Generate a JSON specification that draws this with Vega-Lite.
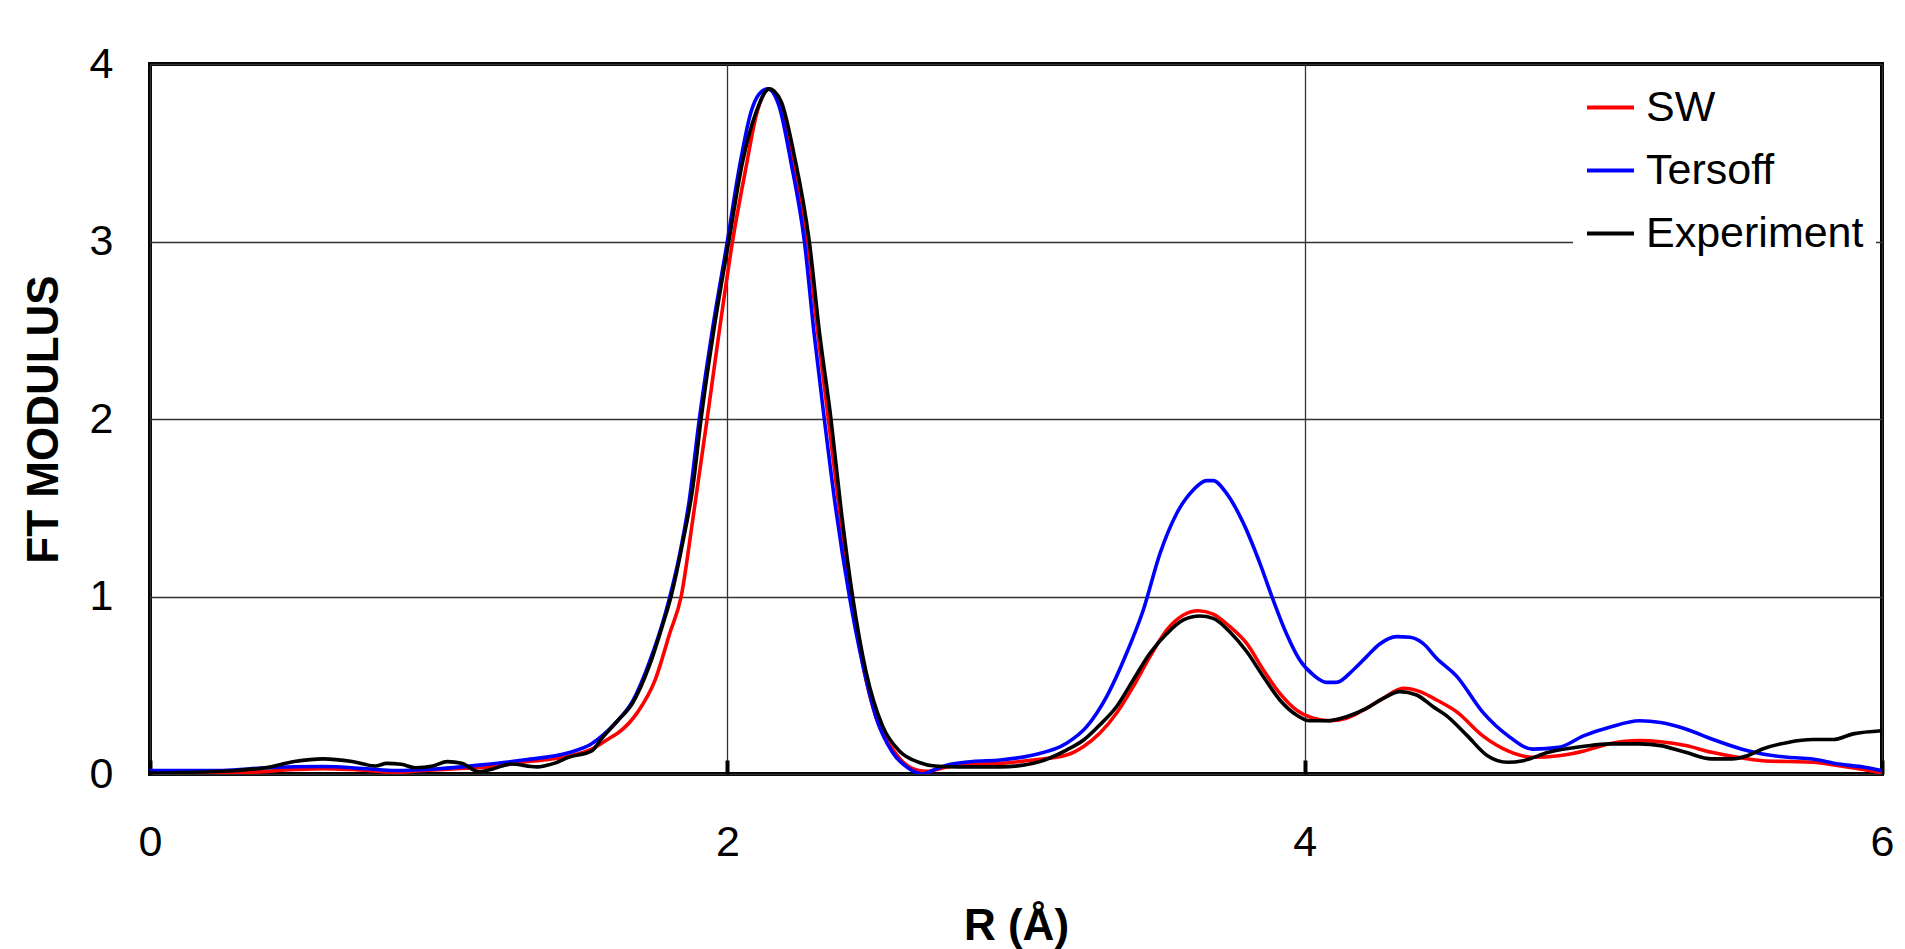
{
  "$schema": "https://vega.github.io/schema/vega-lite/v6.json",
  "width": 1732,
  "height": 710,
  "autosize": {"type": "none"},
  "padding": {"left": 150, "top": 64, "right": 23, "bottom": 175},
  "background": "white",
  "config": {
    "view": {"stroke": "black", "strokeWidth": 4},
    "font": "Liberation Sans"
  },
  "data": {
    "values": [
      {"s":"SW","r":0,"v":0.005},{"s":"SW","r":0.2,"v":0.005},{"s":"SW","r":0.35,"v":0.01},{"s":"SW","r":0.5,"v":0.025},{"s":"SW","r":0.6,"v":0.03},{"s":"SW","r":0.7,"v":0.025},{"s":"SW","r":0.85,"v":0.01},{"s":"SW","r":0.95,"v":0.02},{"s":"SW","r":1.06,"v":0.03},{"s":"SW","r":1.17,"v":0.04},{"s":"SW","r":1.31,"v":0.07},{"s":"SW","r":1.45,"v":0.1},{"s":"SW","r":1.53,"v":0.14},{"s":"SW","r":1.6,"v":0.21},{"s":"SW","r":1.62,"v":0.23},{"s":"SW","r":1.69,"v":0.35},{"s":"SW","r":1.75,"v":0.53},{"s":"SW","r":1.8,"v":0.79},{"s":"SW","r":1.84,"v":1.0},{"s":"SW","r":1.88,"v":1.43},{"s":"SW","r":1.93,"v":2.0},{"s":"SW","r":1.97,"v":2.47},{"s":"SW","r":2.018,"v":3.0},{"s":"SW","r":2.065,"v":3.42},{"s":"SW","r":2.1,"v":3.71},{"s":"SW","r":2.145,"v":3.86},{"s":"SW","r":2.19,"v":3.73},{"s":"SW","r":2.23,"v":3.45},{"s":"SW","r":2.278,"v":3.0},{"s":"SW","r":2.313,"v":2.49},{"s":"SW","r":2.35,"v":2.0},{"s":"SW","r":2.388,"v":1.49},{"s":"SW","r":2.43,"v":1.0},{"s":"SW","r":2.47,"v":0.61},{"s":"SW","r":2.515,"v":0.32},{"s":"SW","r":2.573,"v":0.14},{"s":"SW","r":2.642,"v":0.03},{"s":"SW","r":2.69,"v":0.015},{"s":"SW","r":2.76,"v":0.04},{"s":"SW","r":2.85,"v":0.055},{"s":"SW","r":2.945,"v":0.06},{"s":"SW","r":3.06,"v":0.079},{"s":"SW","r":3.175,"v":0.107},{"s":"SW","r":3.233,"v":0.154},{"s":"SW","r":3.29,"v":0.229},{"s":"SW","r":3.348,"v":0.342},{"s":"SW","r":3.406,"v":0.492},{"s":"SW","r":3.464,"v":0.661},{"s":"SW","r":3.522,"v":0.811},{"s":"SW","r":3.58,"v":0.896},{"s":"SW","r":3.632,"v":0.92},{"s":"SW","r":3.683,"v":0.901},{"s":"SW","r":3.741,"v":0.83},{"s":"SW","r":3.799,"v":0.736},{"s":"SW","r":3.857,"v":0.586},{"s":"SW","r":3.914,"v":0.454},{"s":"SW","r":3.972,"v":0.36},{"s":"SW","r":4.03,"v":0.314},{"s":"SW","r":4.087,"v":0.3},{"s":"SW","r":4.145,"v":0.314},{"s":"SW","r":4.214,"v":0.37},{"s":"SW","r":4.272,"v":0.426},{"s":"SW","r":4.341,"v":0.483},{"s":"SW","r":4.4,"v":0.464},{"s":"SW","r":4.457,"v":0.417},{"s":"SW","r":4.527,"v":0.35},{"s":"SW","r":4.616,"v":0.216},{"s":"SW","r":4.704,"v":0.13},{"s":"SW","r":4.79,"v":0.094},{"s":"SW","r":4.88,"v":0.103},{"s":"SW","r":4.968,"v":0.13},{"s":"SW","r":5.056,"v":0.17},{"s":"SW","r":5.16,"v":0.188},{"s":"SW","r":5.233,"v":0.182},{"s":"SW","r":5.32,"v":0.16},{"s":"SW","r":5.41,"v":0.122},{"s":"SW","r":5.5,"v":0.094},{"s":"SW","r":5.586,"v":0.075},{"s":"SW","r":5.674,"v":0.07},{"s":"SW","r":5.76,"v":0.066},{"s":"SW","r":5.85,"v":0.047},{"s":"SW","r":5.94,"v":0.024},{"s":"SW","r":6.0,"v":0.006},

      {"s":"Tersoff","r":0,"v":0.02},{"s":"Tersoff","r":0.25,"v":0.02},{"s":"Tersoff","r":0.4,"v":0.035},{"s":"Tersoff","r":0.6,"v":0.042},{"s":"Tersoff","r":0.75,"v":0.03},{"s":"Tersoff","r":0.85,"v":0.02},{"s":"Tersoff","r":1.0,"v":0.03},{"s":"Tersoff","r":1.14,"v":0.05},{"s":"Tersoff","r":1.3,"v":0.08},{"s":"Tersoff","r":1.45,"v":0.12},{"s":"Tersoff","r":1.53,"v":0.17},{"s":"Tersoff","r":1.57,"v":0.22},{"s":"Tersoff","r":1.614,"v":0.29},{"s":"Tersoff","r":1.672,"v":0.41},{"s":"Tersoff","r":1.73,"v":0.63},{"s":"Tersoff","r":1.788,"v":0.92},{"s":"Tersoff","r":1.834,"v":1.23},{"s":"Tersoff","r":1.868,"v":1.54},{"s":"Tersoff","r":1.903,"v":2.0},{"s":"Tersoff","r":1.95,"v":2.52},{"s":"Tersoff","r":2.0,"v":3.0},{"s":"Tersoff","r":2.042,"v":3.42},{"s":"Tersoff","r":2.082,"v":3.73},{"s":"Tersoff","r":2.11,"v":3.83},{"s":"Tersoff","r":2.14,"v":3.86},{"s":"Tersoff","r":2.18,"v":3.76},{"s":"Tersoff","r":2.22,"v":3.45},{"s":"Tersoff","r":2.267,"v":3.0},{"s":"Tersoff","r":2.3,"v":2.49},{"s":"Tersoff","r":2.336,"v":2.0},{"s":"Tersoff","r":2.376,"v":1.49},{"s":"Tersoff","r":2.423,"v":1.0},{"s":"Tersoff","r":2.47,"v":0.61},{"s":"Tersoff","r":2.515,"v":0.32},{"s":"Tersoff","r":2.573,"v":0.12},{"s":"Tersoff","r":2.63,"v":0.03},{"s":"Tersoff","r":2.677,"v":0.0},{"s":"Tersoff","r":2.711,"v":0.02},{"s":"Tersoff","r":2.76,"v":0.05},{"s":"Tersoff","r":2.85,"v":0.07},{"s":"Tersoff","r":2.945,"v":0.079},{"s":"Tersoff","r":3.06,"v":0.107},{"s":"Tersoff","r":3.175,"v":0.173},{"s":"Tersoff","r":3.245,"v":0.267},{"s":"Tersoff","r":3.314,"v":0.436},{"s":"Tersoff","r":3.383,"v":0.68},{"s":"Tersoff","r":3.441,"v":0.924},{"s":"Tersoff","r":3.499,"v":1.243},{"s":"Tersoff","r":3.557,"v":1.469},{"s":"Tersoff","r":3.614,"v":1.6},{"s":"Tersoff","r":3.66,"v":1.653},{"s":"Tersoff","r":3.683,"v":1.653},{"s":"Tersoff","r":3.73,"v":1.58},{"s":"Tersoff","r":3.788,"v":1.412},{"s":"Tersoff","r":3.845,"v":1.187},{"s":"Tersoff","r":3.891,"v":0.98},{"s":"Tersoff","r":3.937,"v":0.79},{"s":"Tersoff","r":3.983,"v":0.642},{"s":"Tersoff","r":4.03,"v":0.558},{"s":"Tersoff","r":4.076,"v":0.516},{"s":"Tersoff","r":4.11,"v":0.516},{"s":"Tersoff","r":4.168,"v":0.586},{"s":"Tersoff","r":4.214,"v":0.66},{"s":"Tersoff","r":4.26,"v":0.732},{"s":"Tersoff","r":4.318,"v":0.774},{"s":"Tersoff","r":4.365,"v":0.77},{"s":"Tersoff","r":4.41,"v":0.736},{"s":"Tersoff","r":4.457,"v":0.652},{"s":"Tersoff","r":4.527,"v":0.55},{"s":"Tersoff","r":4.616,"v":0.35},{"s":"Tersoff","r":4.704,"v":0.216},{"s":"Tersoff","r":4.79,"v":0.14},{"s":"Tersoff","r":4.88,"v":0.15},{"s":"Tersoff","r":4.968,"v":0.216},{"s":"Tersoff","r":5.056,"v":0.263},{"s":"Tersoff","r":5.16,"v":0.3},{"s":"Tersoff","r":5.233,"v":0.29},{"s":"Tersoff","r":5.32,"v":0.254},{"s":"Tersoff","r":5.41,"v":0.197},{"s":"Tersoff","r":5.515,"v":0.14},{"s":"Tersoff","r":5.586,"v":0.113},{"s":"Tersoff","r":5.674,"v":0.094},{"s":"Tersoff","r":5.76,"v":0.085},{"s":"Tersoff","r":5.85,"v":0.056},{"s":"Tersoff","r":5.94,"v":0.038},{"s":"Tersoff","r":6.0,"v":0.019},

      {"s":"Experiment","r":0,"v":0.005},{"s":"Experiment","r":0.15,"v":0.01},{"s":"Experiment","r":0.3,"v":0.02},{"s":"Experiment","r":0.4,"v":0.035},{"s":"Experiment","r":0.5,"v":0.07},{"s":"Experiment","r":0.6,"v":0.085},{"s":"Experiment","r":0.7,"v":0.07},{"s":"Experiment","r":0.78,"v":0.045},{"s":"Experiment","r":0.82,"v":0.06},{"s":"Experiment","r":0.87,"v":0.055},{"s":"Experiment","r":0.92,"v":0.035},{"s":"Experiment","r":0.98,"v":0.045},{"s":"Experiment","r":1.03,"v":0.07},{"s":"Experiment","r":1.08,"v":0.06},{"s":"Experiment","r":1.14,"v":0.013},{"s":"Experiment","r":1.19,"v":0.03},{"s":"Experiment","r":1.25,"v":0.056},{"s":"Experiment","r":1.34,"v":0.04},{"s":"Experiment","r":1.4,"v":0.06},{"s":"Experiment","r":1.45,"v":0.094},{"s":"Experiment","r":1.53,"v":0.13},{"s":"Experiment","r":1.565,"v":0.2},{"s":"Experiment","r":1.62,"v":0.3},{"s":"Experiment","r":1.672,"v":0.4},{"s":"Experiment","r":1.73,"v":0.61},{"s":"Experiment","r":1.776,"v":0.84},{"s":"Experiment","r":1.805,"v":1.0},{"s":"Experiment","r":1.845,"v":1.3},{"s":"Experiment","r":1.88,"v":1.61},{"s":"Experiment","r":1.909,"v":2.0},{"s":"Experiment","r":1.955,"v":2.52},{"s":"Experiment","r":2.005,"v":3.0},{"s":"Experiment","r":2.053,"v":3.45},{"s":"Experiment","r":2.1,"v":3.73},{"s":"Experiment","r":2.145,"v":3.86},{"s":"Experiment","r":2.186,"v":3.79},{"s":"Experiment","r":2.23,"v":3.5},{"s":"Experiment","r":2.284,"v":3.0},{"s":"Experiment","r":2.319,"v":2.49},{"s":"Experiment","r":2.359,"v":2.0},{"s":"Experiment","r":2.394,"v":1.49},{"s":"Experiment","r":2.434,"v":1.0},{"s":"Experiment","r":2.48,"v":0.58},{"s":"Experiment","r":2.538,"v":0.27},{"s":"Experiment","r":2.596,"v":0.13},{"s":"Experiment","r":2.665,"v":0.065},{"s":"Experiment","r":2.72,"v":0.045},{"s":"Experiment","r":2.8,"v":0.04},{"s":"Experiment","r":2.945,"v":0.04},{"s":"Experiment","r":3.06,"v":0.06},{"s":"Experiment","r":3.175,"v":0.135},{"s":"Experiment","r":3.233,"v":0.19},{"s":"Experiment","r":3.29,"v":0.276},{"s":"Experiment","r":3.348,"v":0.379},{"s":"Experiment","r":3.406,"v":0.53},{"s":"Experiment","r":3.464,"v":0.68},{"s":"Experiment","r":3.522,"v":0.79},{"s":"Experiment","r":3.58,"v":0.868},{"s":"Experiment","r":3.637,"v":0.89},{"s":"Experiment","r":3.683,"v":0.877},{"s":"Experiment","r":3.741,"v":0.8},{"s":"Experiment","r":3.799,"v":0.69},{"s":"Experiment","r":3.857,"v":0.548},{"s":"Experiment","r":3.914,"v":0.417},{"s":"Experiment","r":3.972,"v":0.332},{"s":"Experiment","r":4.018,"v":0.3},{"s":"Experiment","r":4.076,"v":0.3},{"s":"Experiment","r":4.145,"v":0.323},{"s":"Experiment","r":4.214,"v":0.37},{"s":"Experiment","r":4.272,"v":0.426},{"s":"Experiment","r":4.33,"v":0.464},{"s":"Experiment","r":4.388,"v":0.445},{"s":"Experiment","r":4.445,"v":0.379},{"s":"Experiment","r":4.49,"v":0.33},{"s":"Experiment","r":4.563,"v":0.216},{"s":"Experiment","r":4.633,"v":0.103},{"s":"Experiment","r":4.704,"v":0.066},{"s":"Experiment","r":4.757,"v":0.075},{"s":"Experiment","r":4.845,"v":0.122},{"s":"Experiment","r":4.968,"v":0.156},{"s":"Experiment","r":5.056,"v":0.17},{"s":"Experiment","r":5.16,"v":0.17},{"s":"Experiment","r":5.233,"v":0.16},{"s":"Experiment","r":5.32,"v":0.122},{"s":"Experiment","r":5.41,"v":0.085},{"s":"Experiment","r":5.48,"v":0.085},{"s":"Experiment","r":5.533,"v":0.103},{"s":"Experiment","r":5.586,"v":0.141},{"s":"Experiment","r":5.674,"v":0.178},{"s":"Experiment","r":5.76,"v":0.194},{"s":"Experiment","r":5.83,"v":0.194},{"s":"Experiment","r":5.9,"v":0.226},{"s":"Experiment","r":6.0,"v":0.244}
    ]
  },
  "mark": {"type": "line", "strokeWidth": 3.6, "interpolate": "monotone", "clip": true},
  "encoding": {
    "x": {
      "field": "r", "type": "quantitative",
      "scale": {"domain": [0, 6], "nice": false, "zero": false},
      "axis": {
        "title": "R (Å)", "values": [0, 2, 4, 6],
        "grid": true, "gridColor": "#333333", "gridWidth": 1.3,
        "domain": false,
        "ticks": true, "tickSize": -14, "tickWidth": 4, "tickColor": "black",
        "labelPadding": 61, "labelFont": "Liberation Sans", "labelFontSize": 43, "labelColor": "black",
        "labelFlush": false, "labelOverlap": false,
        "titleFont": "Liberation Sans", "titleFontSize": 44, "titleFontWeight": "bold", "titleColor": "black",
        "titlePadding": 40
      }
    },
    "y": {
      "field": "v", "type": "quantitative",
      "scale": {"domain": [0, 4], "nice": false},
      "axis": {
        "title": "FT MODULUS", "values": [0, 1, 2, 3, 4],
        "grid": true, "gridColor": "#333333", "gridWidth": 1.3,
        "domain": false, "ticks": false,
        "labelPadding": 37, "labelFont": "Liberation Sans", "labelFontSize": 43, "labelColor": "black",
        "labelFlush": false, "labelOverlap": false,
        "titleFont": "Liberation Sans", "titleFontSize": 44, "titleFontWeight": "bold", "titleColor": "black",
        "titlePadding": 23
      }
    },
    "color": {
      "field": "s", "type": "nominal",
      "sort": ["SW", "Tersoff", "Experiment"],
      "scale": {"domain": ["SW", "Tersoff", "Experiment"], "range": ["#ff0000", "#0000ff", "#000000"]},
      "legend": {
        "title": null, "orient": "top-right", "offset": 6,
        "fillColor": "white", "padding": 12,
        "symbolType": "stroke", "symbolSize": 2209, "symbolStrokeWidth": 4,
        "labelFont": "Liberation Sans", "labelFontSize": 43, "labelColor": "black",
        "labelOffset": 10, "rowPadding": 15, "labelLimit": 0
      }
    },
    "order": {"field": "r", "type": "quantitative"}
  }
}
